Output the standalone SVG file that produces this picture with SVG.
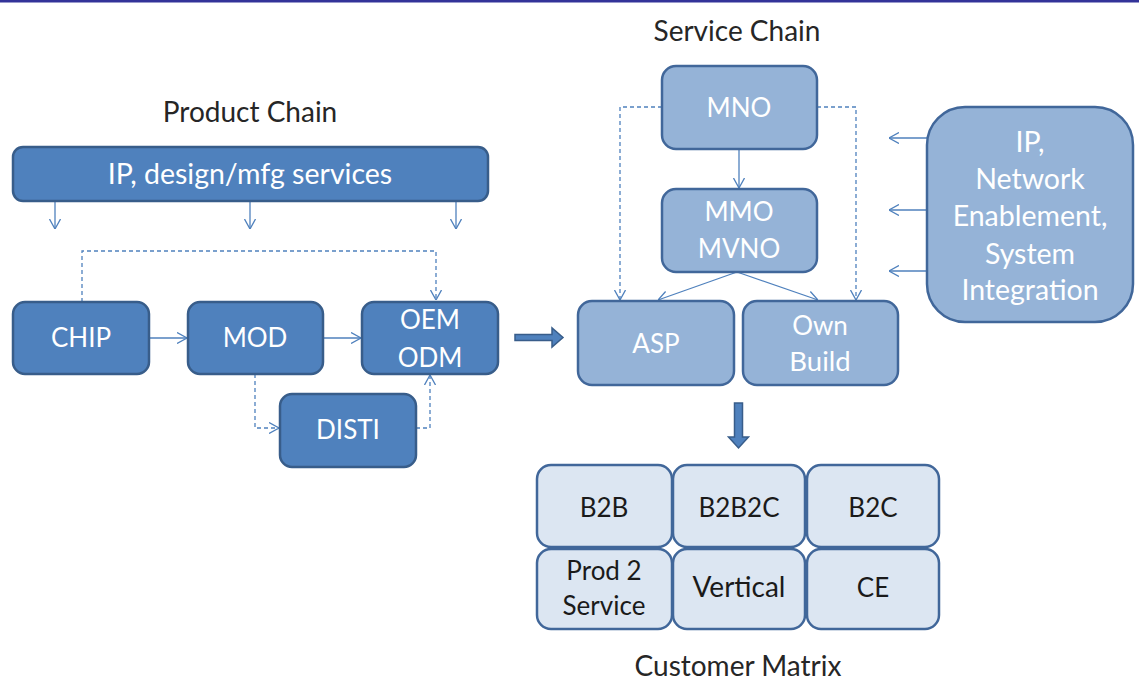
<svg xmlns="http://www.w3.org/2000/svg" width="1139" height="681" viewBox="0 0 1139 681">
<defs>
<style>
.dark{fill:#4F81BD;stroke:#385D8A;stroke-width:2.5}
.light{fill:#95B3D7;stroke:#41679A;stroke-width:2.5}
.pale{fill:#DCE6F2;stroke:#41679A;stroke-width:2.5}
.wt{font-family:Lato,"Liberation Sans",sans-serif;font-size:26px;fill:#FFFFFF;text-anchor:middle}
.big{font-size:28.5px}
.bt{font-family:Lato,"Liberation Sans",sans-serif;font-size:26px;fill:#1A1A1A;text-anchor:middle}
.title{font-family:Lato,"Liberation Sans",sans-serif;font-size:28px;fill:#262626;text-anchor:middle}
.ln{fill:none;stroke:#4F81BD;stroke-width:1.3}
.dash{stroke-dasharray:4 3}
.blk{fill:#4F81BD;stroke:#385D8A;stroke-width:1.5}
</style>
<marker id="arr" viewBox="0 0 10 12" refX="10" refY="6" markerWidth="10" markerHeight="12" markerUnits="userSpaceOnUse" orient="auto">
<path d="M0,0.5 L10,6 L0,11.5" fill="none" stroke="#4F81BD" stroke-width="1.3"/>
</marker>
</defs>
<rect x="0" y="0" width="1139" height="681" fill="#FFFFFF"/>
<rect x="0" y="0" width="1139" height="2.5" fill="#333399"/>

<text class="title" x="250" y="122">Product Chain</text>
<text class="title" x="737" y="41">Service Chain</text>
<text class="title" x="738" y="676">Customer Matrix</text>

<g id="connectors">
<path class="ln" d="M55,201 V229" marker-end="url(#arr)"/>
<path class="ln" d="M250,201 V229" marker-end="url(#arr)"/>
<path class="ln" d="M456,201 V229" marker-end="url(#arr)"/>
<path class="ln dash" d="M82,302 V251 H436 V300" marker-end="url(#arr)"/>
<path class="ln" d="M149,338 H187" marker-end="url(#arr)"/>
<path class="ln" d="M323,338 H361" marker-end="url(#arr)"/>
<path class="ln dash" d="M255,374 V428 H279" marker-end="url(#arr)"/>
<path class="ln dash" d="M416,428 H430 V375" marker-end="url(#arr)"/>
<path class="ln" d="M739,149 V188" marker-end="url(#arr)"/>
<path class="ln" d="M737,272 L658,300" marker-end="url(#arr)"/>
<path class="ln" d="M737,272 L818,300" marker-end="url(#arr)"/>
<path class="ln dash" d="M662,107 H620 V300" marker-end="url(#arr)"/>
<path class="ln dash" d="M817,107 H856 V300" marker-end="url(#arr)"/>
<path class="ln" d="M927,138 H889" marker-end="url(#arr)"/>
<path class="ln" d="M927,210 H889" marker-end="url(#arr)"/>
<path class="ln" d="M927,271 H889" marker-end="url(#arr)"/>
<path class="blk" d="M515,334.5 H552 V328 L563,337.5 L552,347 V340.5 H515 Z"/>
<path class="blk" d="M734.5,403 H742.5 V437 H748.5 L738.5,448 L728.5,437 H734.5 Z"/>
</g>

<g id="ip-design">
<rect class="dark" x="13" y="147" width="475" height="54" rx="10"/>
<text class="wt big" x="250" y="184">IP, design/mfg services</text>
</g>
<g id="chip">
<rect class="dark" x="13" y="302" width="136" height="72" rx="12"/>
<text class="wt" x="81" y="347">CHIP</text>
</g>
<g id="mod">
<rect class="dark" x="188" y="302" width="135" height="72" rx="12"/>
<text class="wt" x="255" y="347">MOD</text>
</g>
<g id="oem-odm">
<rect class="dark" x="362" y="302" width="136" height="72" rx="12"/>
<text class="wt" x="430" y="329">OEM</text>
<text class="wt" x="430" y="367">ODM</text>
</g>
<g id="disti">
<rect class="dark" x="280" y="394" width="136" height="73" rx="12"/>
<text class="wt" x="348" y="439">DISTI</text>
</g>

<g id="mno">
<rect class="light" x="662" y="66" width="155" height="83" rx="14"/>
<text class="wt" x="739" y="117">MNO</text>
</g>
<g id="mmo-mvno">
<rect class="light" x="662" y="189" width="155" height="83" rx="14"/>
<text class="wt" x="739" y="221">MMO</text>
<text class="wt" x="739" y="258">MVNO</text>
</g>
<g id="asp">
<rect class="light" x="578" y="301" width="156" height="84" rx="14"/>
<text class="wt" x="656" y="353">ASP</text>
</g>
<g id="own-build">
<rect class="light" x="743" y="301" width="155" height="84" rx="14"/>
<text class="wt" x="820" y="335">Own</text>
<text class="wt" x="820" y="371" style="font-size:27.5px">Build</text>
</g>
<g id="ip-network">
<rect class="light" x="927" y="107" width="206" height="215" rx="38"/>
<text class="wt big" x="1030" y="152">IP,</text>
<text class="wt big" x="1030" y="189">Network</text>
<text class="wt big" x="1030" y="226">Enablement,</text>
<text class="wt big" x="1030" y="264">System</text>
<text class="wt big" x="1030" y="300">Integration</text>
</g>

<g id="b2b">
<rect class="pale" x="537" y="465" width="135" height="82" rx="14"/>
<text class="bt" x="604" y="517">B2B</text>
</g>
<g id="b2b2c">
<rect class="pale" x="673" y="465" width="132" height="82" rx="14"/>
<text class="bt" x="739" y="517">B2B2C</text>
</g>
<g id="b2c">
<rect class="pale" x="807" y="465" width="132" height="82" rx="14"/>
<text class="bt" x="873" y="517">B2C</text>
</g>
<g id="prod2service">
<rect class="pale" x="537" y="549" width="135" height="80" rx="14"/>
<text class="bt" x="604" y="580">Prod 2</text>
<text class="bt" x="604" y="615">Service</text>
</g>
<g id="vertical">
<rect class="pale" x="673" y="549" width="132" height="80" rx="14"/>
<text class="bt" x="739" y="597" style="font-size:28px">Vertical</text>
</g>
<g id="ce">
<rect class="pale" x="807" y="549" width="132" height="80" rx="14"/>
<text class="bt" x="873" y="597">CE</text>
</g>
</svg>
